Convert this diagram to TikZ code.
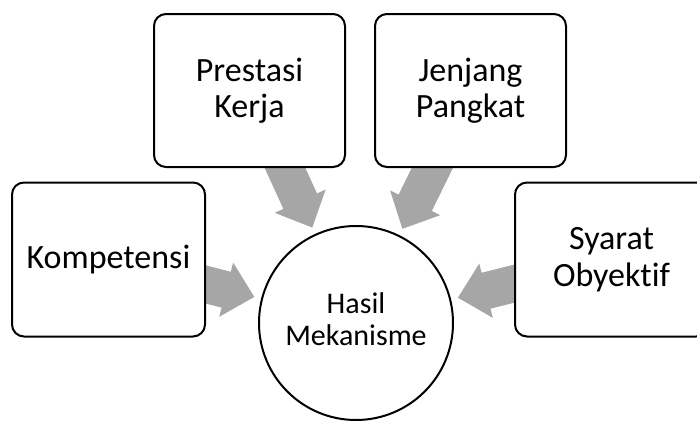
\documentclass[tikz,border=0pt]{standalone}
\usepackage{fontspec}
\setmainfont{Carlito}[Ligatures=NoCommon]
\usetikzlibrary{calc}
\pgfdeclarelayer{bg}
\pgfsetlayers{bg,main}
\definecolor{arrowgray}{HTML}{A6A6A6}
\tikzset{
  box/.style={draw=black, line width=2pt, fill=white, rounded corners=12pt,
    minimum width=193pt, minimum height=154pt, inner sep=0pt, align=center,
    font=\fontsize{34}{36.5}\selectfont},
  hub/.style={circle, draw=black, line width=2pt, fill=white, minimum size=194pt,
    inner sep=0pt, align=center, font=\fontsize{30}{32}\selectfont},
  flow/.style={fill=arrowgray}
}
\newcommand{\blockarrow}[2]{%
  \coordinate (#1-tip) at ($(#2)!105pt!(#1)$);
  \coordinate (#1-base) at ($(#2)!134pt!(#1)$);
  \fill[flow] ($(#1)!18.5pt!90:(#2)$) -- ($(#1-base)!18.5pt!90:(#2)$)
    -- ($(#1-base)!28pt!90:(#2)$) -- (#1-tip)
    -- ($(#1-base)!28pt!-90:(#2)$) -- ($(#1-base)!18.5pt!-90:(#2)$)
    -- ($(#1)!18.5pt!-90:(#2)$) -- cycle;
}
\begin{document}
\begin{tikzpicture}[x=1pt,y=1pt]
  \useasboundingbox (0,0) rectangle (697,-423);
  \clip (0,0) rectangle (697,-423);
  \node[box] (k) at (108.5,-259.5) {Kompetensi};
  \node[box, minimum width=191pt, minimum height=153pt] (p) at (249.5,-90.5) {Prestasi\\Kerja};
  \node[box, minimum width=191pt, minimum height=153pt] (j) at (470.5,-90.5) {Jenjang\\Pangkat};
  \node[box] (s) at (611.5,-259.5) {Syarat\\Obyektif};
  \node[hub] (c) at (356,-323) {\raisebox{-7pt}{\begin{tabular}{@{}c@{}}Hasil\\Mekanisme\end{tabular}}};
  \begin{pgfonlayer}{bg}
    \blockarrow{k}{c}
    \blockarrow{p}{c}
    \blockarrow{j}{c}
    \blockarrow{s}{c}
  \end{pgfonlayer}
\end{tikzpicture}
\end{document}
